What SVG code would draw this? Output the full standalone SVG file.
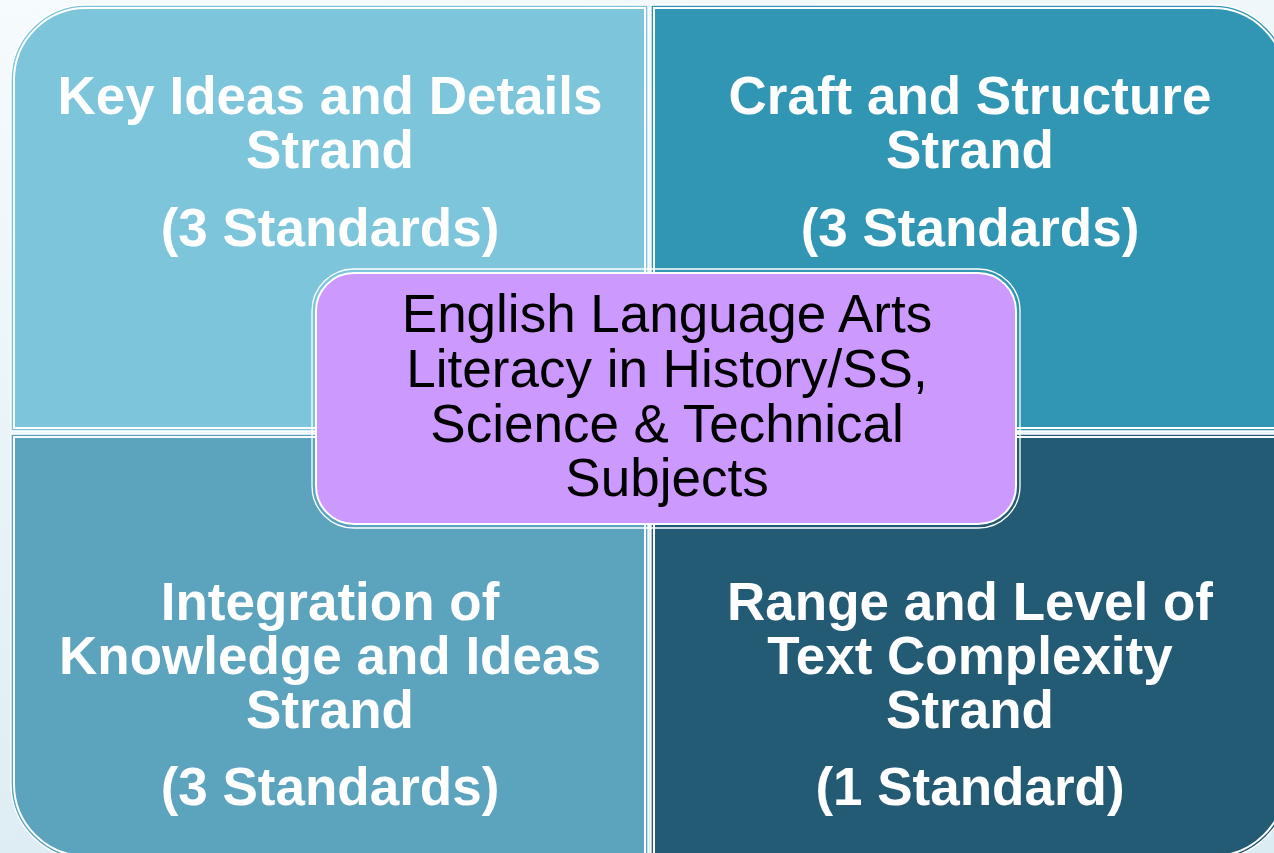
<svg xmlns="http://www.w3.org/2000/svg" width="1274" height="853" viewBox="0 0 1274 853">
  <defs>
    <linearGradient id="bg" x1="0" y1="0" x2="0.3" y2="1">
      <stop offset="0" stop-color="#F6FBFD"/>
      <stop offset="1" stop-color="#DCECF3"/>
    </linearGradient>
  </defs>
  <style>
    .edge { fill: none; stroke: #FFFFFF; stroke-width: 1.3; }
    .inner { fill: none; stroke: #FFFFFF; stroke-width: 2; }
    .strand { font-family: "Liberation Sans", Arial, sans-serif; font-weight: bold; font-size: 53px; fill: #FFFFFF; text-anchor: middle; }
    .hub { font-family: "Liberation Sans", Arial, sans-serif; font-size: 53px; fill: #000000; text-anchor: middle; }
  </style>

  <rect width="1274" height="853" fill="url(#bg)"/>

  <!-- Top-left quadrant -->
  <g id="key-ideas">
    <path d="M11,431 V80 A75,75 0 0 1 86,5 H648 V431 Z" class="edge" style="fill:#7DC5DB"/>
    <path d="M14,428 V80 A72,72 0 0 1 86,8 H645 V428 Z" class="inner"/>
    <text class="strand" x="330" y="114">Key Ideas and Details</text>
    <text class="strand" x="330" y="168">Strand</text>
    <text class="strand" x="330" y="246">(3 Standards)</text>
  </g>

  <!-- Top-right quadrant -->
  <g id="craft-structure">
    <path d="M651,5 H1213 A75,75 0 0 1 1288,80 V431 H651 Z" class="edge" style="fill:#3196B4"/>
    <path d="M654,8 H1213 A72,72 0 0 1 1285,80 V428 H654 Z" class="inner"/>
    <text class="strand" x="970" y="114">Craft and Structure</text>
    <text class="strand" x="970" y="168">Strand</text>
    <text class="strand" x="970" y="246">(3 Standards)</text>
  </g>

  <!-- Bottom-left quadrant -->
  <g id="integration">
    <path d="M11,434 H648 V859 H86 A75,75 0 0 1 11,784 Z" class="edge" style="fill:#5CA4BE"/>
    <path d="M14,437 H645 V856 H86 A72,72 0 0 1 14,784 Z" class="inner"/>
    <text class="strand" x="330" y="620">Integration of</text>
    <text class="strand" x="330" y="674">Knowledge and Ideas</text>
    <text class="strand" x="330" y="728">Strand</text>
    <text class="strand" x="330" y="805">(3 Standards)</text>
  </g>

  <!-- Bottom-right quadrant -->
  <g id="range-level">
    <path d="M651,434 H1288 V784 A75,75 0 0 1 1213,859 H651 Z" class="edge" style="fill:#235B74"/>
    <path d="M654,437 H1285 V784 A72,72 0 0 1 1213,856 H654 Z" class="inner"/>
    <text class="strand" x="970" y="620">Range and Level of</text>
    <text class="strand" x="970" y="674">Text Complexity</text>
    <text class="strand" x="970" y="728">Strand</text>
    <text class="strand" x="970" y="805">(1 Standard)</text>
  </g>

  <!-- Central hub -->
  <g id="ela-hub">
    <rect x="312" y="269" width="708" height="259" rx="42" class="edge"/>
    <rect x="316" y="273" width="700" height="251" rx="38" fill="#CC99FF" stroke="#FFFFFF" stroke-width="2"/>
    <text class="hub" x="667" y="332">English Language Arts</text>
    <text class="hub" x="667" y="387">Literacy in History/SS,</text>
    <text class="hub" x="667" y="442">Science &amp; Technical</text>
    <text class="hub" x="667" y="496">Subjects</text>
  </g>

  <!-- no connectors in this figure -->
  <g id="connectors"/>
</svg>
